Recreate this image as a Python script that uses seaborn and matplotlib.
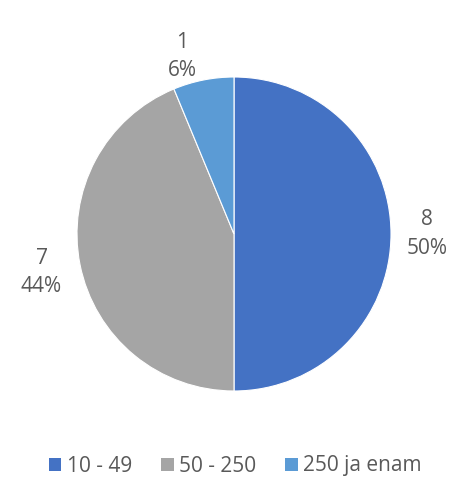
import matplotlib
matplotlib.use("Agg")
import matplotlib.pyplot as plt
import seaborn as sns
import numpy as np
from matplotlib.patches import Patch

sns.set_theme(style="white")
plt.rcParams['font.family'] = ['Open Sans', 'DejaVu Sans']

categories = ["10 - 49", "50 - 250", "250 ja enam"]
counts = [8, 7, 1]
percents = ["50%", "44%", "6%"]
colors = ["#4472C4", "#A5A5A5", "#5B9BD5"]

fig = plt.figure(figsize=(4.61, 4.83), dpi=100)
cx, cy, r = 234, 234, 157
W, H = 461, 483
ax = fig.add_axes([(cx - r) / W, (H - cy - r) / H, 2 * r / W, 2 * r / H])

labels = [f"{c}\n{p}" for c, p in zip(counts, percents)]
wedges, texts = ax.pie(counts, colors=colors, startangle=90, counterclock=False,
                       wedgeprops=dict(edgecolor="white", linewidth=0.8))
label_dist = [1.23, 1.25, 1.18]
label_rot = [0, 0, 5]  # degrees of extra angular shift
for w, lab, d, rot in zip(wedges, labels, label_dist, label_rot):
    ang = np.deg2rad((w.theta1 + w.theta2) / 2 + rot)
    ax.text(d * np.cos(ang), d * np.sin(ang), lab, ha="center", va="center",
            color="#595959", fontsize=15, linespacing=1.45)
ax.set_xlim(-1, 1)
ax.set_ylim(-1, 1)
ax.set_aspect("equal")
ax.axis("off")

handles = [Patch(facecolor=c, edgecolor="none") for c in colors]
fig.legend(handles, categories, loc="center", bbox_to_anchor=(0.51, 1 - 466 / H),
           ncol=3, frameon=False, fontsize=15, handlelength=0.6, handleheight=0.6,
           handletextpad=0.25, columnspacing=1.4, labelcolor="#595959")

fig.savefig("out.png", dpi=100, facecolor="white")
